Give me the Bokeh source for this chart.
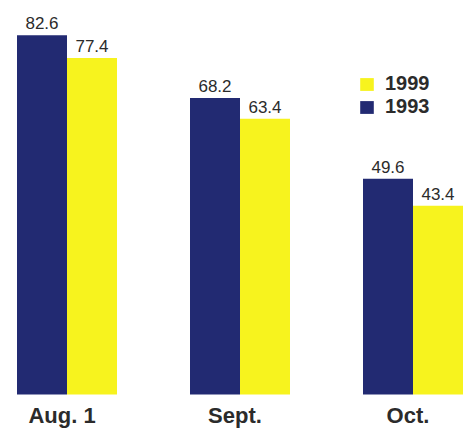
from bokeh.plotting import figure
from bokeh.models import FactorRange, Range1d, Legend, LegendItem, ColumnDataSource
from bokeh.core.properties import value
from bokeh.embed import file_html
from bokeh.resources import INLINE

months = ["Aug. 1", "Sept.", "Oct."]
values_1993 = [82.6, 68.2, 49.6]
values_1999 = [77.4, 63.4, 43.4]

NAVY = "#222a72"
YELLOW = "#f7f31e"
TEXT = "#2b2b2b"
FONT = "Liberation Sans"

x93 = [(m, "1993") for m in months]
x99 = [(m, "1999") for m in months]
factors = [f for pair in zip(x93, x99) for f in pair]

x_range = FactorRange(*factors, group_padding=1.46, range_padding=0.27,
                      range_padding_units="absolute")

p = figure(x_range=x_range, y_range=Range1d(-8.3, 90.6), width=476, height=430,
           min_border_left=3, min_border_right=0, min_border_top=0, min_border_bottom=0,
           x_axis_location=None, y_axis_location=None,
           toolbar_location=None, output_backend="svg")
p.grid.visible = False
p.outline_line_color = None
p.background_fill_color = "white"

s93 = ColumnDataSource(dict(x=x93, top=values_1993, lab=[f"{v:.1f}" for v in values_1993]))
s99 = ColumnDataSource(dict(x=x99, top=values_1999, lab=[f"{v:.1f}" for v in values_1999]))

r93 = p.vbar(x="x", top="top", width=1.0, source=s93, fill_color=NAVY, line_color=None)
r99 = p.vbar(x="x", top="top", width=1.0, source=s99, fill_color=YELLOW, line_color=None)

for s in (s93, s99):
    p.text(x="x", y="top", text="lab", source=s, text_align="center",
           text_baseline="alphabetic", y_offset=-12, text_font=value(FONT),
           text_font_size="17px", text_color=TEXT)

sm = ColumnDataSource(dict(x=months, y=[0] * len(months), t=months))
p.text(x="x", y="y", text="t", source=sm, text_align="center", text_baseline="alphabetic",
       x_offset=-5, y_offset=21, text_font=value(FONT), text_font_size="22px",
       text_font_style="bold", text_color=TEXT)

legend = Legend(items=[LegendItem(label="1999", renderers=[r99]),
                       LegendItem(label="1993", renderers=[r93])],
                location=(355, 312), padding=0, margin=0, spacing=0,
                glyph_width=17, glyph_height=16, label_standoff=10, label_height=15,
                label_text_font=FONT, label_text_font_size="20px",
                label_text_font_style="bold", label_text_color=TEXT,
                border_line_alpha=0, background_fill_alpha=0)
p.add_layout(legend)

open("out.html", "w").write(file_html(p, INLINE))
